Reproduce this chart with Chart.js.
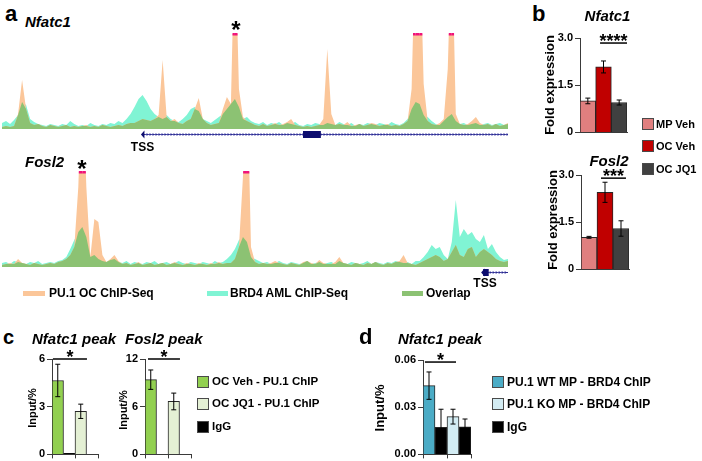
<!DOCTYPE html>
<html>
<head>
<meta charset="utf-8">
<script src="https://cdn.jsdelivr.net/npm/chart.js@4.4.1/dist/chart.umd.min.js"></script>
<style>
  body { margin: 0; background: #fff; }
  #fig { position: relative; width: 702px; height: 461px; overflow: hidden; font-family: 'Liberation Sans', Arial, sans-serif; color: #000; }
  #fig canvas { position: absolute; }
  .t { position: absolute; white-space: nowrap; line-height: 1; font-weight: bold; z-index: 2; }
  .sw { position: absolute; box-sizing: border-box; z-index: 2; }
</style>
</head>
<body>
<div id="fig"></div>
<script>
window.onload = function () {

// genome tracks, one value per ~4px bin, signal height (95 = top of track)
const nfatc1Pu1 = [
  2, 3, 2, 3, 15, 49, 20, 6, 4, 5,
  3, 2, 4, 3, 2, 3, 4, 2, 3, 2,
  3, 4, 2, 3, 2, 4, 3, 2, 3, 4,
  3, 5, 6, 6, 8, 10, 9, 8, 10, 14,
  69, 12, 8, 10, 6, 5, 8, 10, 20, 31,
  10, 6, 4, 5, 6, 20, 32, 25, 200, 40,
  12, 8, 6, 4, 3, 5, 3, 4, 6, 4,
  5, 7, 10, 4, 3, 2, 3, 2, 3, 4,
  10, 80, 15, 4, 5, 4, 7, 3, 4, 5,
  3, 4, 6, 5, 3, 4, 5, 3, 4, 3,
  5, 8, 40, 200, 200, 45, 8, 5, 4, 6,
  10, 60, 200, 15, 5, 4, 5, 8, 12, 6,
  4, 5, 3, 5, 3, 4, 6
];
const nfatc1Brd4 = [
  6, 8, 5, 9, 14, 27, 24, 10, 7, 5,
  4, 3, 5, 4, 3, 5, 4, 8, 5, 3,
  4, 3, 6, 4, 3, 5, 4, 6, 5, 8,
  6, 10, 15, 22, 30, 34, 28, 20, 15, 12,
  10, 14, 10, 8, 7, 10, 14, 20, 22, 18,
  10, 8, 6, 9, 12, 15, 20, 25, 30, 22,
  10, 12, 8, 6, 5, 7, 4, 6, 5, 7,
  4, 6, 5, 7, 4, 3, 5, 4, 6, 5,
  4, 6, 5, 4, 7, 5, 4, 6, 3, 5,
  4, 6, 5, 4, 6, 5, 4, 7, 5, 4,
  6, 10, 20, 27, 25, 14, 12, 8, 5, 4,
  8, 12, 15, 8, 5, 6, 4, 5, 6, 4,
  5, 6, 4, 5, 6, 4, 5
];
const fosl2Pu1 = [
  2, 3, 4, 3, 8, 4, 3, 2, 4, 3,
  2, 3, 4, 3, 5, 6, 8, 12, 20, 80,
  200, 80, 10, 48, 45, 12, 5, 8, 12, 6,
  3, 4, 2, 3, 5, 2, 3, 4, 2, 3,
  4, 2, 3, 5, 3, 2, 4, 3, 2, 4,
  3, 2, 4, 3, 5, 3, 4, 4, 8, 20,
  90, 200, 20, 5, 3, 4, 3, 4, 6, 4,
  3, 2, 4, 3, 2, 5, 6, 4, 3, 7,
  4, 3, 3, 5, 10, 4, 3, 2, 4, 3,
  2, 4, 3, 5, 3, 2, 4, 3, 5, 6,
  12, 4, 3, 2, 4, 6, 8, 10, 12, 10,
  6, 8, 15, 22, 12, 10, 18, 20, 10, 15,
  18, 15, 12, 8, 6, 5, 6
];
const fosl2Brd4 = [
  4, 5, 3, 6, 5, 4, 3, 5, 4, 6,
  3, 4, 5, 4, 6, 7, 10, 18, 27, 35,
  40, 30, 10, 12, 8, 6, 5, 7, 8, 5,
  4, 6, 3, 5, 4, 3, 5, 4, 6, 3,
  4, 5, 3, 4, 6, 4, 3, 5, 4, 3,
  5, 4, 3, 6, 4, 5, 8, 12, 18, 27,
  30, 25, 10, 8, 6, 4, 5, 3, 4, 6,
  4, 3, 5, 4, 3, 4, 6, 3, 4, 5,
  3, 4, 5, 3, 6, 4, 3, 5, 4, 3,
  4, 6, 3, 5, 4, 3, 5, 4, 6, 5,
  4, 5, 3, 6, 6, 10, 15, 22, 18, 20,
  12, 8, 25, 67, 30, 38, 32, 35, 28, 25,
  32, 18, 23, 15, 10, 7, 8
];

// panel b
const bLabels = ['MP Veh', 'OC Veh', 'OC JQ1'];
const bColors = ['#e07f7f', '#c00000', '#404040'];
const nfatc1Fold = [1.0, 2.08, 0.95];
const nfatc1FoldErr = [0.09, 0.19, 0.08];
const fosl2Fold = [1.02, 2.45, 1.3];
const fosl2FoldErr = [0.03, 0.32, 0.245];

// panel c
const cLabels = ['OC Veh - PU.1 ChIP', 'OC JQ1 - PU.1 ChIP'];
const cColors = ['#92d050', '#e4f0d4'];
const nfatc1Chip = [4.65, 2.71];
const nfatc1ChipErr = [1.02, 0.45];
const nfatc1Igg = [0.06, 0];
const fosl2Chip = [9.4, 6.66];
const fosl2ChipErr = [1.22, 1.05];
const fosl2Igg = [0, 0];

// panel d
const dLabels = ['PU.1 WT MP - BRD4 ChIP', 'PU.1 KO MP - BRD4 ChIP'];
const dColors = ['#4bacc6', '#d3ecf3'];
const brd4Chip = [0.0437, 0.024];
const brd4ChipErr = [0.0087, 0.0047];
const brd4Igg = [0.0172, 0.0175];
const brd4IggErr = [0.0115, 0.005];

const orange = 'rgb(251,198,153)';
const teal = 'rgb(128,244,212)';
const green = 'rgb(140,194,115)';
const axisColor = '#3a3a3a';
const tickFont = { family: 'Liberation Sans', size: 11, weight: 'bold' };

const fig = document.getElementById('fig');

function makeCanvas(left, top, w, h) {
  const c = document.createElement('canvas');
  c.width = w; c.height = h;
  c.style.left = left + 'px';
  c.style.top = top + 'px';
  fig.appendChild(c);
  return c;
}

function text(str, x, base, size, opt) {
  opt = opt || {};
  const el = document.createElement('div');
  el.className = 't';
  el.textContent = str;
  el.style.fontSize = size + 'px';
  el.style.left = x + 'px';
  el.style.top = (base - 0.8465 * size) + 'px';
  if (opt.italic) el.style.fontStyle = 'italic';
  if (opt.center) el.style.transform = 'translateX(-50%)';
  fig.appendChild(el);
}

function vtext(str, cx, cy, size) {
  const el = document.createElement('div');
  el.className = 't';
  el.textContent = str;
  el.style.fontSize = size + 'px';
  el.style.left = cx + 'px';
  el.style.top = cy + 'px';
  el.style.transform = 'translate(-50%,-50%) rotate(-90deg)';
  fig.appendChild(el);
}

function swatch(x, y, w, h, color, border) {
  const el = document.createElement('div');
  el.className = 'sw';
  el.style.left = x + 'px'; el.style.top = y + 'px';
  el.style.width = w + 'px'; el.style.height = h + 'px';
  el.style.background = color;
  if (border) el.style.border = '1.5px solid #4a4a4a';
  fig.appendChild(el);
}

// error bars from dataset.errors
const errorBars = {
  id: 'errorBars',
  afterDatasetsDraw(chart) {
    const ctx = chart.ctx, y = chart.scales.y;
    chart.data.datasets.forEach((ds, di) => {
      if (!ds.errors) return;
      chart.getDatasetMeta(di).data.forEach((bar, i) => {
        const e = ds.errors[i];
        if (!e) return;
        const top = y.getPixelForValue(ds.data[i] + e);
        const bot = y.getPixelForValue(ds.data[i] - e);
        ctx.save();
        ctx.strokeStyle = '#000';
        ctx.lineWidth = 1;
        ctx.beginPath();
        ctx.moveTo(bar.x, top); ctx.lineTo(bar.x, bot);
        ctx.moveTo(bar.x - 2.5, top); ctx.lineTo(bar.x + 2.5, top);
        ctx.moveTo(bar.x - 2.5, bot); ctx.lineTo(bar.x + 2.5, bot);
        ctx.stroke();
        ctx.restore();
      });
    });
  }
};

// significance line + stars
const sigMark = {
  id: 'sigMark',
  afterDraw(chart, args, o) {
    if (!o || !o.text) return;
    const ctx = chart.ctx, x = chart.scales.x, y = chart.scales.y;
    const x0 = x.getPixelForValue(o.from), x1 = x.getPixelForValue(o.to);
    const yy = y.getPixelForValue(o.at);
    ctx.save();
    ctx.strokeStyle = '#000';
    ctx.lineWidth = 1.5;
    ctx.beginPath(); ctx.moveTo(x0, yy); ctx.lineTo(x1, yy); ctx.stroke();
    ctx.font = 'bold 18px "Liberation Sans"';
    ctx.textAlign = 'center';
    ctx.fillStyle = '#000';
    ctx.fillText(o.text, (x0 + x1) / 2, yy + 4);
    ctx.restore();
  }
};

// pink marks where PU.1 signal runs over the track top
const clipMarks = {
  id: 'clipMarks',
  afterDatasetsDraw(chart) {
    const ctx = chart.ctx, area = chart.chartArea, max = chart.scales.y.max;
    chart.data.datasets.forEach((ds, di) => {
      if (!ds.clipMark) return;
      const pts = chart.getDatasetMeta(di).data, d = ds.data;
      ctx.save();
      ctx.fillStyle = '#f0127a';
      for (let i = 0; i < d.length - 1; i++) {
        const a = d[i], b = d[i + 1];
        if (a <= max && b <= max) continue;
        const t0 = a > max ? 0 : (max - a) / (b - a);
        const t1 = b > max ? 1 : (a - max) / (a - b);
        const dx = pts[i + 1].x - pts[i].x;
        ctx.fillRect(pts[i].x + dx * t0, area.top - 1, dx * (t1 - t0), 2.5);
      }
      ctx.restore();
    });
  }
};

// gene model under a track
const geneModel = {
  id: 'geneModel',
  afterDraw(chart, args, g) {
    if (!g || g.from === undefined) return;
    const ctx = chart.ctx, x = chart.scales.x;
    const y = chart.chartArea.bottom + g.offset;
    const x0 = x.getPixelForValue(g.from), x1 = x.getPixelForValue(g.to);
    ctx.save();
    ctx.strokeStyle = '#2b2b8f';
    ctx.lineWidth = 1;
    ctx.beginPath(); ctx.moveTo(x0, y + 0.5); ctx.lineTo(x1, y + 0.5); ctx.stroke();
    ctx.strokeStyle = '#7070c0';
    ctx.beginPath();
    for (let px = x0 + 3; px < x1 - 1; px += 3) {
      ctx.moveTo(px + 1.5, y - 1); ctx.lineTo(px, y + 0.5); ctx.lineTo(px + 1.5, y + 2);
    }
    ctx.stroke();
    ctx.fillStyle = '#0c0c6e';
    g.exons.forEach(function (ex) {
      const xa = x.getPixelForValue(ex[0]), xb = x.getPixelForValue(ex[1]);
      ctx.fillRect(xa, y - 3, xb - xa, 7);
    });
    ctx.beginPath();
    ctx.moveTo(x0 - 2, y + 0.5); ctx.lineTo(x0 + 1.5, y - 3.5); ctx.lineTo(x0 + 1.5, y + 4.5);
    ctx.closePath(); ctx.fill();
    ctx.restore();
  }
};

function track(top, pu1, brd4, gene) {
  const cv = makeCanvas(2, top - 4, 506, 112);
  const overlap = pu1.map((v, i) => Math.min(v, brd4[i]));
  return new Chart(cv, {
    type: 'line',
    data: {
      labels: pu1.map((v, i) => i),
      datasets: [
        { label: 'Overlap', data: overlap, backgroundColor: green, borderColor: 'rgba(0,0,0,0)', fill: 'origin' },
        { label: 'PU.1 OC ChIP-Seq', data: pu1, backgroundColor: orange, borderColor: 'rgba(0,0,0,0)', fill: 'origin', clipMark: true },
        { label: 'BRD4 AML ChIP-Seq', data: brd4, backgroundColor: teal, borderColor: 'rgba(0,0,0,0)', fill: 'origin' }
      ]
    },
    options: {
      responsive: false, animation: false, events: [],
      layout: { padding: { top: 4, bottom: 13, left: 0, right: 0 } },
      elements: { point: { radius: 0 }, line: { tension: 0, borderWidth: 0 } },
      scales: { x: { display: false }, y: { display: false, min: 0, max: 95 } },
      plugins: { legend: { display: false }, tooltip: { enabled: false }, geneModel: gene }
    },
    plugins: [clipMarks, geneModel]
  });
}

function barPanel(box, labels, datasets, yMax, yStep, fmt, sig, xTicks) {
  const yw = 34, padTop = 22, padRight = 4, xh = 8;
  const cv = makeCanvas(box.l - yw, box.t - padTop, box.r - box.l + yw + padRight, box.b - box.t + padTop + xh);
  return new Chart(cv, {
    type: 'bar',
    data: { labels: labels, datasets: datasets },
    options: {
      responsive: false, animation: false, events: [],
      layout: { padding: { top: padTop, right: padRight, left: 0, bottom: 0 } },
      datasets: { bar: { barPercentage: 1, categoryPercentage: 1, borderWidth: 1, borderColor: '#262626' } },
      scales: {
        x: {
          ticks: { display: false },
          grid: { display: xTicks, drawOnChartArea: false, tickLength: 4, color: axisColor },
          border: { color: axisColor, width: 1 },
          afterFit: s => { s.height = xh; }
        },
        y: {
          min: 0, max: yMax,
          ticks: { stepSize: yStep, font: tickFont, color: '#000', padding: 2, callback: fmt },
          grid: { drawOnChartArea: false, tickLength: 5, color: axisColor },
          border: { color: axisColor, width: 1 },
          afterFit: s => { s.width = yw; }
        }
      },
      plugins: { legend: { display: false }, tooltip: { enabled: false }, sigMark: sig }
    },
    plugins: [errorBars, sigMark]
  });
}

// ---- panel a ----
track(34, nfatc1Pu1, nfatc1Brd4, { from: 35.1, to: 126, exons: [[74.95, 79.4]], offset: 5 });
track(172, fosl2Pu1, fosl2Brd4, { from: 119.8, to: 126, exons: [[119.8, 121.2]], offset: 5 });

// ---- panel b ----
const fmtB = v => v === 0 ? '0' : v.toFixed(1);
barPanel({ l: 580, r: 627, t: 38, b: 133 }, bLabels,
  [{ data: nfatc1Fold, errors: nfatc1FoldErr, backgroundColor: bColors }],
  3, 1.5, fmtB, { from: 0.78, to: 2.5, at: 2.84, text: '****' }, false);
barPanel({ l: 581, r: 629, t: 175, b: 270 }, bLabels,
  [{ data: fosl2Fold, errors: fosl2FoldErr, backgroundColor: bColors }],
  3, 1.5, fmtB, { from: 0.75, to: 2.31, at: 2.9, text: '***' }, false);

// ---- panel c ----
barPanel({ l: 52, r: 98, t: 359, b: 455 }, cLabels,
  [{ data: nfatc1Chip, errors: nfatc1ChipErr, backgroundColor: cColors },
   { data: nfatc1Igg, backgroundColor: '#000' }],
  6, 3, v => v, { from: -0.46, to: 1.02, at: 6, text: '*' }, true);
barPanel({ l: 145, r: 191, t: 359, b: 455 }, cLabels,
  [{ data: fosl2Chip, errors: fosl2ChipErr, backgroundColor: cColors },
   { data: fosl2Igg, backgroundColor: '#000' }],
  12, 6, v => v, { from: -0.37, to: 1.02, at: 12, text: '*' }, true);

// ---- panel d ----
barPanel({ l: 423, r: 471, t: 360, b: 455 }, dLabels,
  [{ data: brd4Chip, errors: brd4ChipErr, backgroundColor: dColors },
   { data: brd4Igg, errors: brd4IggErr, backgroundColor: '#000' }],
  0.06, 0.03, v => v.toFixed(2), { from: -0.42, to: 0.875, at: 0.0587, text: '*' }, true);

// ---- text ----
text('a', 5, 22, 22);
text('Nfatc1', 25, 27, 15, { italic: true });
text('*', 236, 38.7, 24, { center: true });
text('TSS', 142.5, 151, 12, { center: true });
text('Fosl2', 25, 167, 15, { italic: true });
text('*', 82, 177.7, 24, { center: true });
text('TSS', 485, 287, 12, { center: true });

swatch(23, 291, 22, 4.5, orange);
text('PU.1 OC ChIP-Seq', 49, 297.5, 12);
swatch(207, 291, 21, 4.5, teal);
text('BRD4 AML ChIP-Seq', 230, 297.5, 12);
swatch(402, 291, 21, 4.5, green);
text('Overlap', 426, 297.5, 12);

text('b', 532, 22, 22);
text('Nfatc1', 607.5, 20.5, 15, { italic: true, center: true });
vtext('Fold expression', 549, 85, 13);
text('Fosl2', 609, 166, 15, { italic: true, center: true });
vtext('Fold expression', 552, 220, 13);
[124, 146, 169].forEach((cy, i) => {
  swatch(642, cy - 6, 12, 12, bColors[i], true);
  text(bLabels[i], 656, cy + 4, 11);
});

text('c', 3, 343.5, 20);
text('Nfatc1 peak', 32, 344, 15, { italic: true });
text('Fosl2 peak', 125, 344, 15, { italic: true });
vtext('Input/%', 32, 408, 11);
vtext('Input/%', 123, 410, 11);
const cLegend = [cLabels[0], cLabels[1], 'IgG'];
const cLegendColors = [cColors[0], cColors[1], '#000'];
[382, 404, 427].forEach((cy, i) => {
  swatch(197, cy - 6, 12, 12, cLegendColors[i], true);
  text(cLegend[i], 212, cy + 4.2, 11.5);
});

text('d', 359, 345, 22);
text('Nfatc1 peak', 398, 344, 15, { italic: true });
vtext('Input/%', 379, 408, 13);
const dLegend = [dLabels[0], dLabels[1], 'IgG'];
const dLegendColors = [dColors[0], dColors[1], '#000'];
[382, 404, 427].forEach((cy, i) => {
  swatch(492, cy - 6, 12, 12, dLegendColors[i], true);
  text(dLegend[i], 507, cy + 4.3, 12);
});

};
</script>
</body>
</html>
